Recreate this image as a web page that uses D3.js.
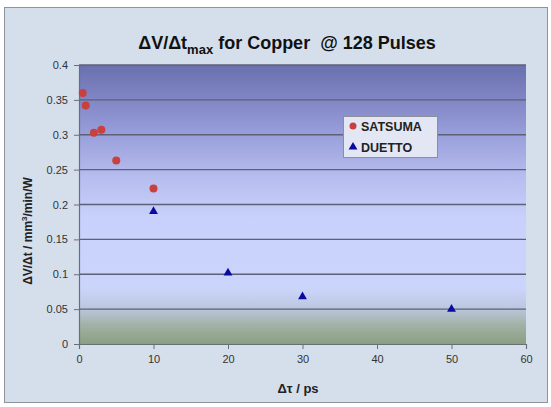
<!DOCTYPE html>
<html><head><meta charset="utf-8">
<script src="https://cdn.jsdelivr.net/npm/d3@7"></script>
<style>body{margin:0;background:#fff}svg{display:block}text{font-family:Arial,"Liberation Sans",sans-serif}</style>
</head><body>
<svg id="c" width="551" height="407"></svg>
<script>
const satsumaX = [0.5, 0.9, 2, 3, 5, 10];
const satsumaY = [0.360, 0.342, 0.303, 0.307, 0.263, 0.223];
const duettoX = [10, 20, 30, 50];
const duettoY = [0.190, 0.102, 0.068, 0.050];
const xTicks = [0, 10, 20, 30, 40, 50, 60];
const yTicks = [0, 0.05, 0.1, 0.15, 0.2, 0.25, 0.3, 0.35, 0.4];
const yTickLabels = ["0", "0.05", "0.1", "0.15", "0.2", "0.25", "0.3", "0.35", "0.4"];

const svg = d3.select("#c");
const m = {l: 79, r: 526, t: 65, b: 344};
const x = d3.scaleLinear().domain([0, 60]).range([m.l, m.r]);
const y = d3.scaleLinear().domain([0, 0.4]).range([m.b, m.t]);

svg.append("rect").attr("x", 4.5).attr("y", 7.5).attr("width", 543).attr("height", 395)
  .attr("fill", "#d5dfec").attr("stroke", "#8c949c").attr("stroke-width", 1);

const defs = svg.append("defs");
const g = defs.append("linearGradient").attr("id", "pg").attr("x1", 0).attr("y1", 0).attr("x2", 0).attr("y2", 1);
[[0, "#6a6fae"], [0.2, "#8f95d2"], [0.4, "#b7bdef"], [0.55, "#c8d1fb"], [0.8, "#cbd5fb"], [0.87, "#bcc8e0"], [0.93, "#a3b2a8"], [1, "#8a9f80"]]
  .forEach(([o, c]) => g.append("stop").attr("offset", o).attr("stop-color", c));

svg.append("rect").attr("x", m.l).attr("y", m.t).attr("width", m.r - m.l).attr("height", m.b - m.t)
  .attr("fill", "url(#pg)");

svg.append("g").selectAll("line").data(yTicks.filter(d => d > 0)).join("line")
  .attr("x1", m.l).attr("x2", m.r).attr("y1", d => y(d)).attr("y2", d => y(d))
  .attr("stroke", "#5c6178").attr("stroke-width", 1.3);

const yAxis = d3.axisLeft(y).tickValues(yTicks).tickSize(5).tickPadding(6)
  .tickFormat((d, i) => yTickLabels[i]);
const ya = svg.append("g").attr("transform", `translate(${m.l},0)`).call(yAxis);
const xAxis = d3.axisBottom(x).tickValues(xTicks).tickSize(5).tickPadding(6);
const xa = svg.append("g").attr("transform", `translate(0,${m.b})`).call(xAxis);
[ya, xa].forEach(a => {
  a.select(".domain").attr("stroke", "#6a6e78").attr("stroke-width", 1.2);
  a.selectAll(".tick line").attr("stroke", "#6a6e78");
  a.selectAll(".tick text").attr("fill", "#333").style("font-size", "11px").style("font-family", "Arial, 'Liberation Sans', sans-serif");
});

svg.append("g").selectAll("circle").data(satsumaX.map((d, i) => [d, satsumaY[i]])).join("circle")
  .attr("cx", d => x(d[0])).attr("cy", d => y(d[1])).attr("r", 4)
  .attr("fill", "#c8413e");
const tri = d3.symbol().type(d3.symbolTriangle).size(34);
svg.append("g").selectAll("path").data(duettoX.map((d, i) => [d, duettoY[i]])).join("path")
  .attr("d", tri).attr("transform", d => `translate(${x(d[0])},${y(d[1])})`)
  .attr("fill", "#0a0aa0");

const lg = svg.append("g");
lg.append("rect").attr("x", 343.5).attr("y", 116.5).attr("width", 94).attr("height", 41)
  .attr("fill", "#e2e7f3").attr("stroke", "#8a8f9a");
lg.append("circle").attr("cx", 353).attr("cy", 126).attr("r", 3.5).attr("fill", "#c8413e");
lg.append("path").attr("d", tri).attr("transform", "translate(353,147)").attr("fill", "#0a0aa0");
lg.append("text").attr("x", 361).attr("y", 130.5).text("SATSUMA").attr("fill", "#222")
  .style("font-size", "12.5px").style("font-weight", "bold");
lg.append("text").attr("x", 361).attr("y", 151.5).text("DUETTO").attr("fill", "#222")
  .style("font-size", "12.5px").style("font-weight", "bold");

const t = svg.append("text").attr("x", 287).attr("y", 49).attr("text-anchor", "middle")
  .attr("fill", "#111").style("font-size", "18px").style("font-weight", "bold");
t.append("tspan").text("ΔV/Δt");
t.append("tspan").attr("dy", 5).style("font-size", "13px").text("max");
t.append("tspan").attr("dy", -5).attr("xml:space", "preserve").text(" for Copper  @ 128 Pulses");

svg.append("text").attr("x", 298).attr("y", 393).attr("text-anchor", "middle")
  .attr("fill", "#222").style("font-size", "13px").style("font-weight", "bold").text("Δτ / ps");
const yt = svg.append("text").attr("transform", "translate(32,231) rotate(-90)").attr("text-anchor", "middle")
  .attr("fill", "#222").style("font-size", "12px").style("font-weight", "bold");
yt.append("tspan").text("ΔV/Δt / mm");
yt.append("tspan").attr("dy", -5).style("font-size", "8px").text("3");
yt.append("tspan").attr("dy", 5).text("/min/W");
</script>
</body></html>
